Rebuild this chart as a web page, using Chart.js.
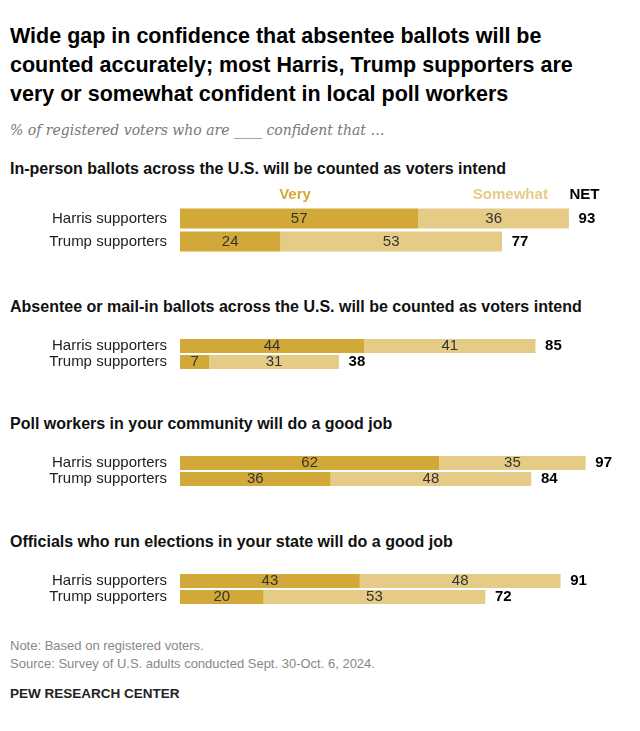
<!DOCTYPE html>
<html><head><meta charset="utf-8">
<script src="https://cdn.jsdelivr.net/npm/chart.js@4.4.0/dist/chart.umd.min.js"></script>
<style>
body{margin:0;background:#fff;font-family:"Liberation Sans",Arial,sans-serif;width:640px;height:731px;position:relative;overflow:hidden}
.t{position:absolute;left:10px;top:22px;width:595px;font-size:21.5px;font-weight:bold;line-height:29px;color:#000}
.sub{position:absolute;left:10px;top:122px;font-style:italic;color:#777;font-family:"DejaVu Serif",serif;font-size:14px}
.h{position:absolute;left:10px;font-size:16px;font-weight:bold;color:#111}
canvas{position:absolute;left:0}
.note{position:absolute;left:10px;font-size:13px;color:#888}
.pew{position:absolute;left:10px;top:686px;font-size:13.5px;font-weight:bold;color:#222}
</style></head><body>
<div class="t">Wide gap in confidence that absentee ballots will be counted accurately; most Harris, Trump supporters are very or somewhat confident in local poll workers</div>
<div class="sub">% of registered voters who are ____ confident that …</div>
<div class="h" style="top:160px">In-person ballots across the U.S. will be counted as voters intend</div>
<div class="h" style="top:298px">Absentee or mail-in ballots across the U.S. will be counted as voters intend</div>
<div class="h" style="top:415px">Poll workers in your community will do a good job</div>
<div class="h" style="top:533px">Officials who run elections in your state will do a good job</div>
<canvas id="c0" width="640" height="84" style="top:183px"></canvas>
<canvas id="c1" width="640" height="60" style="top:324px"></canvas>
<canvas id="c2" width="640" height="60" style="top:441px"></canvas>
<canvas id="c3" width="640" height="60" style="top:559px"></canvas>
<div class="note" style="top:638px">Note: Based on registered voters.</div>
<div class="note" style="top:656px">Source: Survey of U.S. adults conducted Sept. 30-Oct. 6, 2024.</div>
<div class="pew">PEW RESEARCH CENTER</div>
<script>
const groups = ["Harris supporters", "Trump supporters"];
const very = [[57, 24], [44, 7], [62, 36], [43, 20]];
const somewhat = [[36, 53], [41, 31], [35, 48], [48, 53]];
const net = [[93, 77], [85, 38], [97, 84], [91, 72]];
const VERY = "#d2a838", SOME = "#e5cb86";

const labelPlugin = {
  id: "labels",
  afterDatasetsDraw(chart) {
    const ctx = chart.ctx, k = chart.options.plugins.labels.k;
    ctx.save();
    ctx.textAlign = "center"; ctx.textBaseline = "middle";
    ctx.font = "15px 'Liberation Sans', Arial";
    ctx.fillStyle = "#333";
    chart.data.datasets.forEach((ds, di) => {
      chart.getDatasetMeta(di).data.forEach((bar, i) => {
        ctx.fillText(ds.data[i], (bar.base + bar.x) / 2, bar.y);
      });
    });
    ctx.font = "bold 15px 'Liberation Sans', Arial";
    ctx.fillStyle = "#000";
    const xs = chart.scales.x;
    chart.getDatasetMeta(1).data.forEach((bar, i) => {
      ctx.fillText(net[k][i], bar.x + 18, bar.y);
    });
    if (k === 0) {
      const top = chart.chartArea.top - 12;
      ctx.fillStyle = VERY;
      ctx.fillText("Very", xs.getPixelForValue(27.5), top);
      ctx.fillStyle = SOME;
      ctx.fillText("Somewhat", xs.getPixelForValue(79), top);
      ctx.fillStyle = "#000";
      ctx.fillText("NET", xs.getPixelForValue(96.7), top);
    }
    ctx.restore();
  }
};

very.forEach((v, k) => {
  new Chart(document.getElementById("c" + k), {
    type: "bar",
    data: {
      labels: groups,
      datasets: [
        { label: "Very", data: v, backgroundColor: VERY, categoryPercentage: 1, barPercentage: 0.87 },
        { label: "Somewhat", data: somewhat[k], backgroundColor: SOME, categoryPercentage: 1, barPercentage: 0.87 }
      ]
    },
    options: {
      indexAxis: "y", responsive: false, animation: false,
      layout: { padding: { top: k === 0 ? 24 : 0, left: 0, right: 0, bottom: 0 } },
      plugins: { legend: { display: false }, tooltip: { enabled: false }, labels: { k } },
      scales: {
        x: { stacked: true, min: 0, max: 110, display: false },
        y: {
          stacked: true, grid: { display: false }, border: { display: false },
          ticks: { color: "#222", font: { size: 15, family: "'Liberation Sans', Arial" }, padding: 5 },
          afterFit(s) { s.width = 180; }
        }
      }
    },
    plugins: [labelPlugin]
  });
});
</script>
</body></html>
